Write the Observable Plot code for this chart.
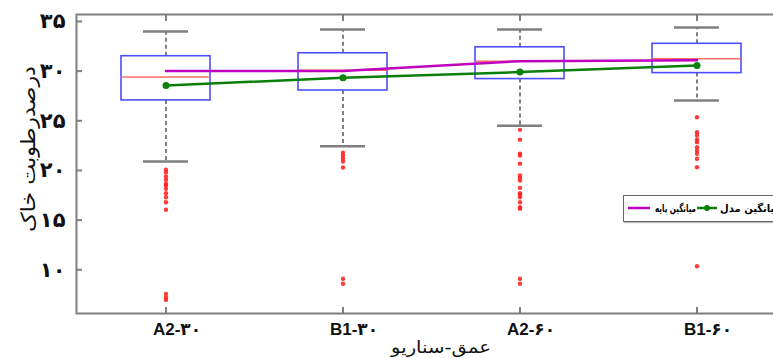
<!DOCTYPE html>
<html><head><meta charset="utf-8">
<script src="https://cdn.jsdelivr.net/npm/d3@7"></script>
<script src="https://cdn.jsdelivr.net/npm/@observablehq/plot@0.6"></script>
<style>
body{margin:0;overflow:hidden;background:#fff;}
#wrap{position:relative;width:773px;height:358px;overflow:hidden;}
#legend{position:absolute;left:623px;top:195px;width:175px;height:25px;border:1.5px solid #666;background:#fff;box-shadow:1px 1px 1px #bbb;}
#legend svg{display:block}
</style></head><body><div id="wrap"></div>
<script>
// categories (depth-scenario)
const categories = ["A2-30", "B1-30", "A2-60", "B1-60"];
const xTickLabels = ["A2-۳۰", "B1-۳۰", "A2-۶۰", "B1-۶۰"];
const yTicks = [10, 15, 20, 25, 30, 35];
const yTickLabels = ["۱۰", "۱۵", "۲۰", "۲۵", "۳۰", "۳۵"];

// box statistics
const q1 = [27.05, 28.05, 29.2, 29.8];
const q3 = [31.5, 31.8, 32.4, 32.75];
const median = [29.4, 30.1, 31.0, 31.24];
const whiskerLow = [20.9, 22.44, 24.5, 27.05];
const whiskerHigh = [34.0, 34.2, 34.2, 34.4];

// outliers
const outA230 = [20.07, 19.83, 19.39, 19.06, 18.66, 18.49, 18.15, 17.71, 17.31, 16.8, 16.04, 7.58, 7.24, 6.97];
const outB130 = [21.8, 21.5, 21.2, 20.9, 20.3, 9.1, 8.6];
const outA260 = [24.09, 23.09, 21.68, 21.5, 20.67, 19.49, 19.26, 18.99, 18.25, 17.71, 17.55, 17.31, 16.8, 16.3, 16.14, 9.1, 8.6];
const outB160 = [25.36, 23.85, 23.52, 23.09, 22.85, 22.34, 22.0, 21.68, 21.18, 20.33, 10.35];

// mean series
const seriesNames = ["میانگین پایه", "میانگین مدل"];
const baseMean = [30.0, 30.0, 31.0, 31.1];
const modelMean = [28.55, 29.33, 29.9, 30.57];

const yTitle = "درصدرطوبت خاک";
const xTitle = "عمق-سناریو";

const boxes = categories.map((c, i) => ({cat: c, q1: q1[i], q3: q3[i], med: median[i], lo: whiskerLow[i], hi: whiskerHigh[i]}));
const outliers = [outA230, outB130, outA260, outB160].flatMap((arr, i) => arr.map(v => ({cat: categories[i], v})));
const means = categories.map((c, i) => ({cat: c, base: baseMean[i], model: modelMean[i]}));

const gray = "#7f7f7f";
const magenta = "#c000c0";
const green = "#0a7f0a";
const fa = "'Liberation Sans', 'DejaVu Sans', sans-serif";

const chart = Plot.plot({
  width: 785,
  height: 358,
  marginLeft: 76,
  marginTop: 14,
  marginBottom: 45,
  marginRight: 0,
  style: {fontFamily: fa, maxWidth: "none", background: "#fff", overflow: "hidden"},
  x: {type: "band", domain: categories, paddingInner: 0.5, paddingOuter: 0.25, align: 0.5},
  y: {domain: [5.6, 35.7]},
  marks: [
    Plot.frame({stroke: gray, strokeWidth: 2}),
    Plot.axisY({ticks: yTicks, tickSize: -6, tickFormat: () => "", stroke: gray, strokeWidth: 2, label: null}),
    Plot.axisY({ticks: yTicks, tickSize: 0, tickPadding: 11, tickFormat: d => yTickLabels[yTicks.indexOf(d)], fontSize: 21, fontWeight: "bold", fill: "#111", fontFamily: "'DejaVu Sans'", label: null}),
    Plot.axisX({anchor: "bottom", tickSize: -6, tickFormat: () => "", stroke: gray, strokeWidth: 2, label: null}),
    Plot.axisX({anchor: "top", tickSize: -6, tickFormat: () => "", stroke: gray, strokeWidth: 2, label: null}),
    Plot.axisX({anchor: "bottom", tickSize: 0, tickPadding: 9, dx: 11, tickFormat: d => xTickLabels[categories.indexOf(d)], fontSize: 17, fontWeight: "bold", fill: "#111", label: null}),
    Plot.text([yTitle], {frameAnchor: "left", textAnchor: "middle", lineAnchor: "middle", rotate: -90, dx: -48, dy: -15, fontSize: 20, fill: "#111", fontFamily: "'DejaVu Sans'", className: "ytitle"}),
    Plot.text([xTitle], {frameAnchor: "bottom", textAnchor: "middle", lineAnchor: "middle", dx: 10, dy: 34, fontSize: 17, fill: "#111", fontFamily: "'DejaVu Sans'", className: "xtitle"}),
    Plot.ruleX(boxes, {x: "cat", y1: "q3", y2: "hi", stroke: gray, strokeWidth: 2, strokeDasharray: "4,3"}),
    Plot.ruleX(boxes, {x: "cat", y1: "q1", y2: "lo", stroke: gray, strokeWidth: 2, strokeDasharray: "4,3"}),
    Plot.tickY(boxes, {x: "cat", y: "hi", insetLeft: 22, insetRight: 22, stroke: gray, strokeWidth: 2.5}),
    Plot.tickY(boxes, {x: "cat", y: "lo", insetLeft: 22, insetRight: 22, stroke: gray, strokeWidth: 2.5}),
    Plot.barY(boxes, {x: "cat", y1: "q1", y2: "q3", fill: "none", stroke: "#4d4dff", strokeWidth: 1.6}),
    Plot.tickY(boxes, {x: "cat", y: "med", stroke: "#ff6b6b", strokeWidth: 1.5}),
    Plot.dot(outliers, {x: "cat", y: "v", r: 2.2, fill: "#ff1a1a", fillOpacity: 0.85}),
    Plot.line(means, {x: "cat", y: "base", stroke: magenta, strokeWidth: 2.5}),
    Plot.line(means, {x: "cat", y: "model", stroke: green, strokeWidth: 2.5}),
    Plot.dot(means, {x: "cat", y: "model", r: 3.5, fill: green})
  ]
});
const wrap = document.getElementById("wrap");
wrap.appendChild(chart);

// horizontally stretch/squeeze a text (keeps Arabic letters joined)
function stretch(el, target) {
  if (!el) return;
  const w = el.getComputedTextLength();
  if (!w) return;
  const s = target / w;
  let t = el.getAttribute("transform");
  if (!t) {
    const x = +el.getAttribute("x") || 0, y = +el.getAttribute("y") || 0;
    el.removeAttribute("x"); el.removeAttribute("y");
    t = `translate(${x},${y})`;
  }
  el.setAttribute("transform", `${t} scale(${s},1)`);
}
stretch(chart.querySelector("g.ytitle text"), 166);
stretch(chart.querySelector("g.xtitle text"), 100);

// legend (cut off at the right edge, as in the reference)
const legend = document.createElement("div");
legend.id = "legend";
wrap.appendChild(legend);
const lg = d3.select(legend).append("svg").attr("width", 175).attr("height", 25);
lg.append("line").attr("x1", 4).attr("x2", 26).attr("y1", 12).attr("y2", 12).attr("stroke", magenta).attr("stroke-width", 2.5);
const t1 = lg.append("text").attr("x", 31).attr("y", 12).attr("dominant-baseline", "central")
  .attr("font-family", "'DejaVu Sans'").attr("font-weight", "bold").attr("font-size", 10.5).text(seriesNames[0]);
lg.append("line").attr("x1", 73).attr("x2", 93).attr("y1", 12).attr("y2", 12).attr("stroke", green).attr("stroke-width", 2.5);
lg.append("circle").attr("cx", 83).attr("cy", 12).attr("r", 3).attr("fill", green);
const t2 = lg.append("text").attr("x", 96).attr("y", 12).attr("dominant-baseline", "central")
  .attr("font-family", "'DejaVu Sans'").attr("font-weight", "bold").attr("font-size", 10.5).text(seriesNames[1]);
stretch(t1.node(), 41);
stretch(t2.node(), 61);
</script>
</body></html>
